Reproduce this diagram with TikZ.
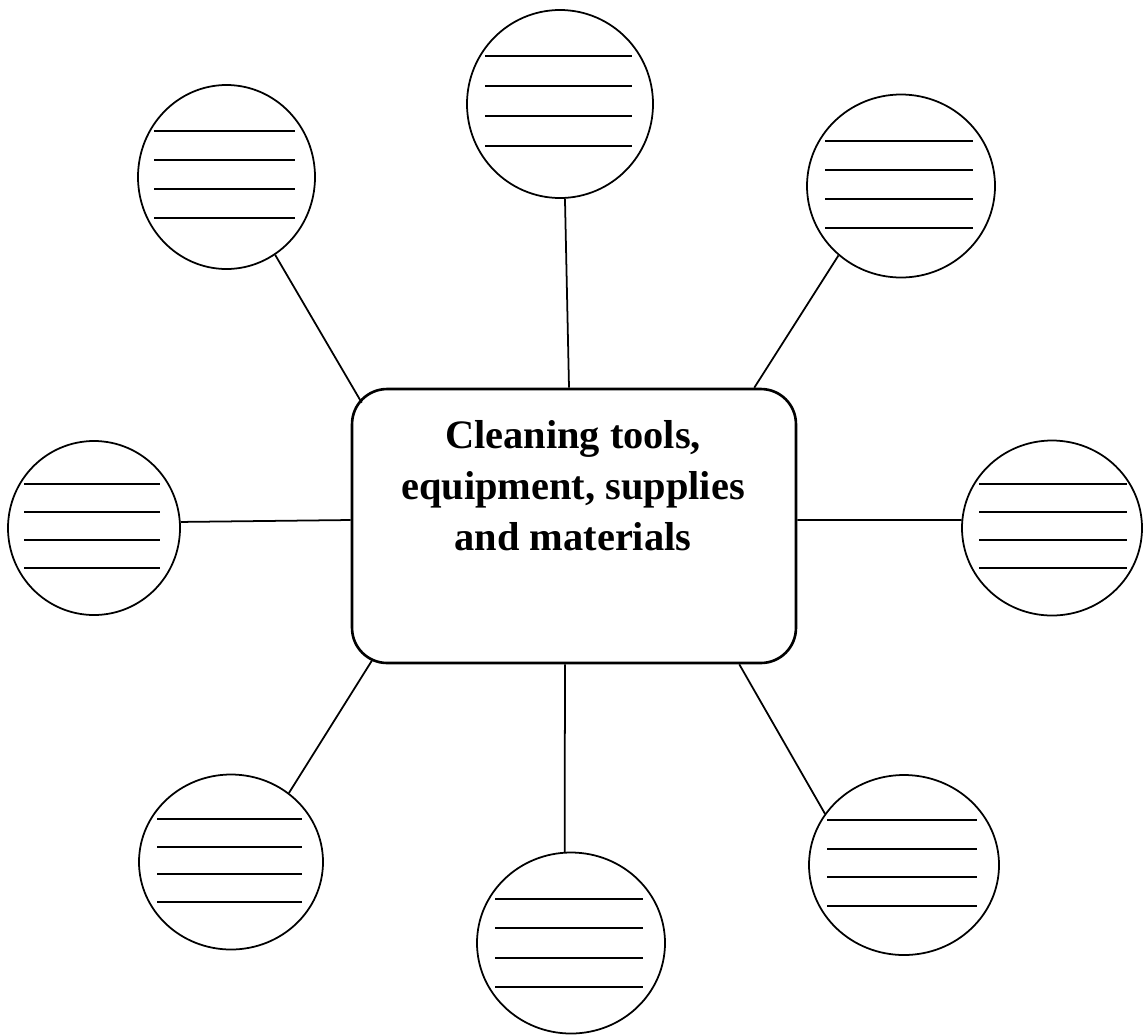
\documentclass[tikz,border=0pt]{standalone}
\usepackage{fontspec}
\setmainfont{Liberation Serif}
\usetikzlibrary{shapes.geometric,calc}
\tikzset{
  bubble/.style 2 args={ellipse,draw,line width=1pt,inner sep=0pt,
    minimum width=#1*0.02cm,minimum height=#2*0.02cm},
  hubbox/.style={draw,line width=1.5pt,rounded corners=0.7cm,
    minimum width=8.88cm,minimum height=5.48cm},
  link/.style={line width=1pt},
  writeline/.style={line width=1.2pt}
}
\begin{document}
\begin{tikzpicture}[x=0.02cm,y=-0.02cm]
  \useasboundingbox (0,0) rectangle (1145,1035);
  % centre box
  \node[hubbox] (hub) at (574,526) {};
  \node[align=center,font=\fontsize{23}{29}\selectfont\bfseries,anchor=base]
    (title) at (573,550) {Cleaning tools,\\equipment, supplies\\and materials};
  % circles with lines to write on
  \foreach \n/\cx/\cy/\w/\h/\ly/\ls/\la/\lb in {
      tc/560/104/186/188/56/30/485/632,
      tl/226.5/177/177/184/131/29/154/295,
      tr/901/186/188/183/141/29/825/973,
      l/94/528/172/174/484/28/24/160,
      r/1052/528/180/175/484/28/979/1127,
      bl/231/862/184/175/819/27.7/157/302,
      bc/571/943/188/181/899/29.3/495/643,
      br/904/865/190/180/820/28.7/827/977} {
    \node[bubble={\w}{\h}] (\n) at (\cx,\cy) {};
    \foreach \i in {0,...,3}
      \draw[writeline] (\la,\ly+\i*\ls) -- (\lb,\ly+\i*\ls);
  }
  % links
  \draw[link] (tc.-87) -- ($(hub.north)+(-5,0)$);
  \draw[link] (tl.-58) -- ($(hub.north west)+(11,15)$);
  \draw[link] (tr.-132) -- ($(hub.north east)+(-43,0)$);
  \draw[link] (l.4) -- ($(hub.west)+(0,-6)$);
  \draw[link] (r.175) -- ($(hub.east)+(0,-6)$);
  \draw[link] (bl.50) -- ($(hub.south west)+(22,-5)$);
  \draw[link] (bc.94) -- ($(hub.south)+(-9,0)$);
  \draw[link] (br.147) -- ($(hub.south east)+(-58,0)$);
\end{tikzpicture}
\end{document}
